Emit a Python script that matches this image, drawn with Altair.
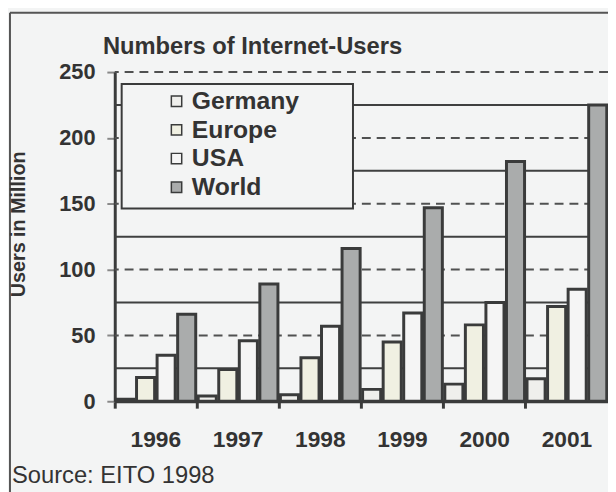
import altair as alt
import pandas as pd

years = ["1996", "1997", "1998", "1999", "2000", "2001"]
series = ["Germany", "Europe", "USA", "World"]
germany = [1.5, 4, 5, 9, 13, 17]
europe = [18, 24, 33, 45, 58, 72]
usa = [35, 46, 57, 67, 75, 85]
world = [66, 89, 116, 147, 182, 225]
y_ticks = [0, 50, 100, 150, 200, 250]
dashed_grid = [50, 100, 150, 200, 250]
solid_grid = [25, 75, 125, 175, 225]
colors = ["#efefec", "#f0f0e2", "#f5f5f5", "#aaacac"]
title_text = "Numbers of Internet-Users"
y_title = "Users in Million"
source_text = "Source: EITO 1998"

rows = []
for name, vals in zip(series, [germany, europe, usa, world]):
    for yr, v in zip(years, vals):
        rows.append({"year": yr, "series": name, "value": v})
df = pd.DataFrame(rows)

dark = "#3a3b3b"
bg = "#f3f4f4"
font = "Liberation Sans"

y_scale = alt.Scale(domain=[0, 250], nice=False)

dash_rules = alt.Chart(pd.DataFrame({"v": dashed_grid})).mark_rule(
    color="#505151", strokeWidth=2, strokeDash=[9, 6]
).encode(y=alt.Y("v:Q", scale=y_scale))

solid_rules = alt.Chart(pd.DataFrame({"v": solid_grid})).mark_rule(
    color="#3f4040", strokeWidth=2
).encode(y=alt.Y("v:Q", scale=y_scale))

bars = alt.Chart(df).mark_bar(stroke=dark, strokeWidth=3).encode(
    x=alt.X(
        "year:N",
        sort=years,
        scale=alt.Scale(paddingInner=0, paddingOuter=0),
        axis=alt.Axis(
            title=None, labelAngle=0, bandPosition=0, labelFont=font,
            labelFontSize=23, labelFontWeight="bold", labelColor="#333",
            tickSize=7, tickWidth=3, tickColor=dark, labelPadding=21,
            domainColor=dark, domainWidth=3,
        ),
    ),
    xOffset=alt.XOffset("series:N", sort=series,
                        scale=alt.Scale(paddingInner=0.12, paddingOuter=0.06)),
    y=alt.Y(
        "value:Q",
        scale=y_scale,
        axis=alt.Axis(
            values=y_ticks, title=None, grid=False, labelFont=font,
            labelFontSize=22, labelFontWeight="bold", labelColor="#333",
            tickSize=8, tickColor="#888", tickWidth=2, labelPadding=12,
            domainColor=dark, domainWidth=3,
        ),
    ),
    color=alt.Color(
        "series:N",
        sort=series,
        scale=alt.Scale(domain=series, range=colors),
        legend=alt.Legend(
            title=None, orient="none", legendX=50, legendY=17,
            symbolType="square", symbolSize=110, symbolStrokeColor=dark,
            symbolStrokeWidth=1.5, symbolFillColor="#eee",
            labelFont=font, labelFontSize=25, labelFontWeight="bold",
            labelColor="#333", rowPadding=3, labelOffset=3,
        ),
    ),
)

one = pd.DataFrame({"t": [source_text], "title": [title_text], "yt": [y_title]})

legend_box = alt.Chart(one).mark_rect(
    fill=bg, stroke=dark, strokeWidth=2
).encode(x=alt.value(7), x2=alt.value(241), y=alt.value(12), y2=alt.value(138))

frame_v = alt.Chart(one).mark_rule(color="#555", strokeWidth=2).encode(
    x=alt.value(-106), y=alt.value(-60), y2=alt.value(440))
frame_h = alt.Chart(one).mark_rule(color="#555", strokeWidth=2).encode(
    y=alt.value(-60), x=alt.value(-106), x2=alt.value(520))

source = alt.Chart(one).mark_text(
    align="left", baseline="middle", font=font, fontSize=24, color="#333"
).encode(text="t:N", x=alt.value(-104), y=alt.value(409))

title = alt.Chart(one).mark_text(
    align="left", baseline="middle", font=font, fontSize=24,
    fontWeight="bold", color="#333"
).encode(text="title:N", x=alt.value(-12), y=alt.value(-25))

ytitle = alt.Chart(one).mark_text(
    align="center", baseline="middle", font=font, fontSize=20,
    fontWeight="bold", color="#333", angle=270
).encode(text="yt:N", x=alt.value(-97), y=alt.value(154))

chart = alt.layer(
    solid_rules, dash_rules, legend_box, bars, frame_v, frame_h, source,
    title, ytitle
).properties(
    width=499,
    height=333,
    background=bg,
    padding={"left": 108, "top": 62, "right": 0, "bottom": 89},
    autosize=alt.AutoSizeParams(type="none"),
).configure_view(stroke=None)

chart.save("out.html", embed_options={"renderer": "svg", "actions": False})
